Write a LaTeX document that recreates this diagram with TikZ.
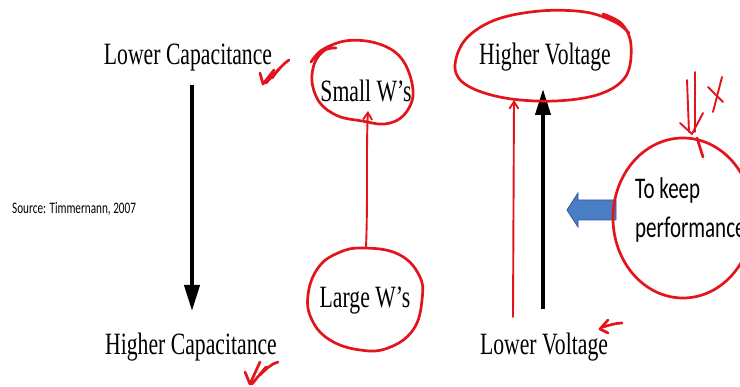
\documentclass[tikz,border=0pt]{standalone}
\usepackage{fontspec}
\setmainfont{Liberation Serif}
\newfontfamily\calfont{Carlito}
\usetikzlibrary{arrows.meta}
\definecolor{pen}{HTML}{E3141B}
\definecolor{bluefill}{HTML}{4A7EC4}
\definecolor{blueedge}{HTML}{2F5597}
\tikzset{
  lbl/.style={inner sep=0pt, anchor=base, font=\fontsize{31}{31}\selectfont},
  redpen/.style={draw=pen, line width=2.7pt, line cap=round, line join=round},
  thinpen/.style={draw=pen, line width=1.9pt, line cap=round, line join=round},
  blackarrow/.style={draw=black, line width=4pt, -{Triangle[length=26pt,width=15pt]}},
  redarrow/.style={thinpen, -{Straight Barb[length=7pt,width=9pt]}},
}
\newcommand{\sq}[1]{\scalebox{0.7}[1]{#1}}
\begin{document}
\begin{tikzpicture}[x=1pt,y=-1pt]
\useasboundingbox (0,0) rectangle (740,387);
\clip (0,0) rectangle (740,387);
\fill[white] (0,0) rectangle (740,387);

% texts
\node[lbl] (lc) at (188,65) {\sq{Lower Capacitance}};
\node[lbl] (hc) at (191,355) {\sq{Higher Capacitance}};
\node[lbl] (sw) at (366,102) {\sq{Small W’s}};
\node[lbl] (lw) at (365,308) {\sq{Large W’s}};
\node[lbl] (hv) at (545,65) {\sq{Higher Voltage}};
\node[lbl] (lv) at (544,355) {\sq{Lower Voltage}};
\node[inner sep=0pt, anchor=base west, font=\calfont\fontsize{16}{16}\selectfont] (src) at (12,214) {\sq{Source: Timmernann, 2007}};
\node[inner sep=0pt, anchor=base west, font=\calfont\fontsize{30}{30}\selectfont] (tk1) at (635,199) {\sq{To keep}};
\node[inner sep=0pt, anchor=base west, font=\calfont\fontsize{30}{30}\selectfont] (tk2) at (635,238) {\sq{performance}};

% black arrows
\coordinate (c1) at (192,85);
\coordinate (c2) at (192,311);
\draw[blackarrow] (c1) -- (c2);
\coordinate (v1) at (543,309);
\coordinate (v2) at (543,89);
\draw[blackarrow] (v1) -- (v2);

% blue block arrow
\draw[fill=bluefill, draw=blueedge, line width=0.8pt]
  (567,210) -- (578,193) -- (578,200) -- (616,200) -- (616,220) -- (578,220) -- (578,227) -- cycle;

% red loops
\draw[redpen] plot[smooth, tension=0.6] coordinates {(336,48) (325,50) (315,62) (312,82) (320,103) (338,116) (362,121) (385,124) (403,116) (413,96) (408,70) (395,52) (372,42) (345,41) (322,50) (311,62)};
\draw[redpen] plot[smooth cycle, tension=0.7] coordinates {(363,248) (398,254) (419,275) (422,300) (413,330) (388,348) (360,350) (330,340) (312,320) (308,295) (318,268) (338,253)};
\draw[redpen] plot[smooth, tension=0.6] coordinates {(603,14) (622,24) (631,45) (626,76) (600,94) (555,101) (505,98) (468,86) (455,68) (465,40) (495,20) (540,11) (585,12) (615,22) (629,33)};
\draw[redpen] (683,218) ellipse[x radius=70, y radius=80];
\draw[redpen] (697,138) -- (703,157);

% red arrows
\coordinate (r1) at (366,247);
\coordinate (r2) at (368,111);
\draw[redarrow] (r1) .. controls (368,200) and (366,150) .. (r2);
\coordinate (r3) at (513,317);
\coordinate (r4) at (514,100);
\draw[redarrow] (r3) -- (r4);

% double down arrow and X
\draw[thinpen] (687,80) -- (689,132);
\draw[thinpen] (695,72) -- (695,132);
\draw[thinpen] (680,123) -- (692,134) -- (703,113);
\draw[thinpen] (708,87) -- (723,102);
\draw[thinpen] (722,77) -- (713,112);

% check scribbles
\draw[redpen] (260,73) -- (263,84) -- (274,70);
\draw[redpen] (266,83) -- (279,69);
\draw[redpen] (272,78) .. controls (278,70) and (283,64) .. (289,60);
\draw[redpen] (245,372) -- (250,384) -- (260,362);
\draw[redpen] (252,384) -- (266,367);
\draw[redpen] (260,375) .. controls (266,369) and (271,364) .. (278,362);
\draw[redpen] (608,320) -- (600,329) -- (608,333);
\draw[redpen] (603,327) .. controls (610,325) and (616,323) .. (622,323);
\end{tikzpicture}
\end{document}
